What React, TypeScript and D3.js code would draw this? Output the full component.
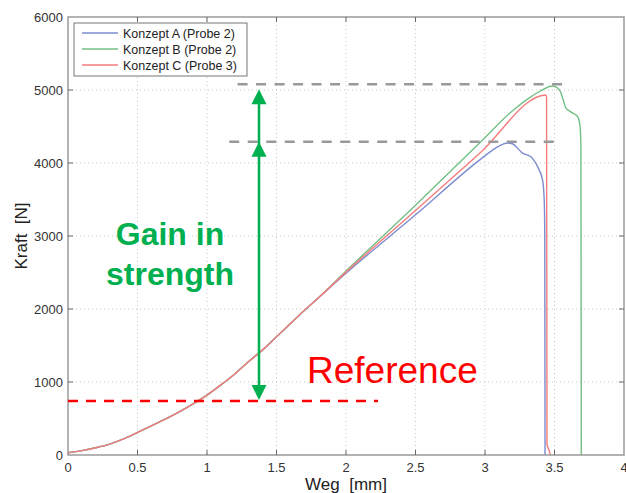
import {useEffect, useRef} from "react";
import * as d3 from "d3";

// shared loading part (all three specimens lie on top of each other here)
const baseWeg = [0, 0.1, 0.2, 0.3, 0.4, 0.5, 0.6, 0.7, 0.8, 0.9, 1.0, 1.1, 1.2, 1.3, 1.4, 1.5, 1.6, 1.7, 1.8]
const baseKraft = [30, 60, 100, 150, 220, 310, 400, 490, 590, 700, 820, 960, 1110, 1280, 1440, 1620, 1800, 1980, 2150]

const wegA = [2.0, 2.5, 2.96, 3.05, 3.1, 3.16, 3.2, 3.27, 3.33, 3.378, 3.414, 3.426, 3.43, 3.432]
const kraftA = [2490, 3290, 4040, 4170, 4230, 4275, 4260, 4135, 4085, 3950, 3770, 3500, 3000, 0]

const wegB = [2.0, 2.5, 2.97, 3.2, 3.34, 3.42, 3.485, 3.52, 3.545, 3.565, 3.58, 3.617, 3.665, 3.684, 3.69, 3.693]
const kraftB = [2520, 3420, 4290, 4720, 4920, 5010, 5055, 5030, 4970, 4850, 4760, 4700, 4640, 4500, 4220, 0]

const wegC = [2.0, 2.5, 2.96, 3.437, 3.443, 3.446, 3.46, 3.47]
const kraftC = [2505, 3350, 4130, 4932, 4900, 150, 70, 0]

const seriesNames = ["Konzept A (Probe 2)", "Konzept B (Probe 2)", "Konzept C (Probe 3)"]
const seriesColors = ["#7d8bd0", "#72bf85", "#f47c7c"]

const xTicks = [0, 0.5, 1, 1.5, 2, 2.5, 3, 3.5, 4]
const yTicks = [0, 1000, 2000, 3000, 4000, 5000, 6000]

// annotation levels (N)
const peakB = 5080
const peakA = 4290
const referenceLevel = 740

const App = () => {
    const svgRef = useRef<SVGSVGElement>(null)

    useEffect(() => {
        const svg = d3.select(svgRef.current)
        svg.selectAll("*").remove()

        const margin = {top: 17, right: 2, bottom: 38, left: 68},
            width = 626 - margin.left - margin.right,
            height = 493 - margin.top - margin.bottom;

        const g = svg.append("g")
            .attr("transform", "translate(" + margin.left + "," + margin.top + ")")

        const x = d3.scaleLinear().domain([0, 4]).range([0, width])
        const y = d3.scaleLinear().domain([0, 6000]).range([height, 0])

        // grid
        g.selectAll(".vgrid")
            .data(xTicks.slice(1, -1))
            .enter().append("line")
            .attr("x1", d => x(d)).attr("x2", d => x(d))
            .attr("y1", 0).attr("y2", height)
            .attr("stroke", "#c8c8c8").attr("stroke-dasharray", "1,3")
        g.selectAll(".hgrid")
            .data(yTicks.slice(1, -1))
            .enter().append("line")
            .attr("x1", 0).attr("x2", width)
            .attr("y1", d => y(d)).attr("y2", d => y(d))
            .attr("stroke", "#c8c8c8").attr("stroke-dasharray", "1,3")

        // curves
        const toPts = (wx: number[], ky: number[]) => wx.map((w, i) => [w, ky[i]] as [number, number])
        const base = toPts(baseWeg, baseKraft)
        const curves = [
            base.concat(toPts(wegA, kraftA)),
            base.concat(toPts(wegB, kraftB)),
            base.concat(toPts(wegC, kraftC)),
        ]
        const line = d3.line<[number, number]>()
            .x(d => x(d[0]))
            .y(d => y(d[1]))
            .curve(d3.curveMonotoneX)

        g.selectAll(".curve")
            .data(curves)
            .enter().append("path")
            .attr("d", d => line(d))
            .attr("fill", "none")
            .attr("stroke", (_, i) => seriesColors[i])
            .attr("stroke-width", 1.4)

        // frame + inner ticks
        g.append("rect")
            .attr("width", width).attr("height", height)
            .attr("fill", "none").attr("stroke", "#9a9a9a").attr("stroke-width", 1.5)

        const tickLen = 5
        xTicks.slice(1, -1).forEach(t => {
            g.append("line").attr("x1", x(t)).attr("x2", x(t)).attr("y1", height).attr("y2", height - tickLen)
                .attr("stroke", "#666")
            g.append("line").attr("x1", x(t)).attr("x2", x(t)).attr("y1", 0).attr("y2", tickLen)
                .attr("stroke", "#666")
        })
        yTicks.slice(1, -1).forEach(t => {
            g.append("line").attr("x1", 0).attr("x2", tickLen).attr("y1", y(t)).attr("y2", y(t))
                .attr("stroke", "#666")
            g.append("line").attr("x1", width).attr("x2", width - tickLen).attr("y1", y(t)).attr("y2", y(t))
                .attr("stroke", "#666")
        })

        // tick labels
        g.selectAll(".xlab")
            .data(xTicks)
            .enter().append("text")
            .attr("x", d => x(d)).attr("y", height + 17)
            .attr("text-anchor", "middle")
            .attr("font-family", "Liberation Sans, Arial, sans-serif")
            .attr("font-size", 13).attr("fill", "#333")
            .text(d => String(d))
        g.selectAll(".ylab")
            .data(yTicks)
            .enter().append("text")
            .attr("x", -5).attr("y", d => y(d) + 4.5)
            .attr("text-anchor", "end")
            .attr("font-family", "Liberation Sans, Arial, sans-serif")
            .attr("font-size", 13).attr("fill", "#333")
            .text(d => String(d))

        // axis titles
        g.append("text")
            .attr("x", x(2)).attr("y", height + 35)
            .attr("text-anchor", "middle")
            .attr("font-family", "Liberation Sans, Arial, sans-serif")
            .attr("font-size", 17).attr("fill", "#222")
            .style("white-space", "pre")
            .text("Weg  [mm]")
        g.append("text")
            .attr("transform", "translate(" + (-41) + "," + y(3000) + ")rotate(-90)")
            .attr("text-anchor", "middle")
            .attr("font-family", "Liberation Sans, Arial, sans-serif")
            .attr("font-size", 17).attr("fill", "#222")
            .style("white-space", "pre")
            .text("Kraft  [N]")

        // legend
        const lg = g.append("g").attr("transform", "translate(6,6)")
        lg.append("rect").attr("width", 173).attr("height", 53)
            .attr("fill", "white").attr("stroke", "#777").attr("stroke-width", 1)
        seriesNames.forEach((name, i) => {
            const ly = 10 + i * 16
            lg.append("line").attr("x1", 8).attr("x2", 44).attr("y1", ly).attr("y2", ly)
                .attr("stroke", seriesColors[i]).attr("stroke-width", 1.4)
            lg.append("text").attr("x", 49).attr("y", ly + 4.5)
                .attr("font-family", "Liberation Sans, Arial, sans-serif")
                .attr("font-size", 12.5).attr("fill", "#222")
                .text(name)
        })

        // annotations
        g.append("line")
            .attr("x1", x(1.22)).attr("x2", x(3.58))
            .attr("y1", y(peakB)).attr("y2", y(peakB))
            .attr("stroke", "#999").attr("stroke-width", 2.5).attr("stroke-dasharray", "10,8.5")
        g.append("line")
            .attr("x1", x(1.16)).attr("x2", x(3.51))
            .attr("y1", y(peakA)).attr("y2", y(peakA))
            .attr("stroke", "#999").attr("stroke-width", 2.5).attr("stroke-dasharray", "10,8.5")
        g.append("line")
            .attr("x1", x(0)).attr("x2", x(2.23))
            .attr("y1", y(referenceLevel)).attr("y2", y(referenceLevel))
            .attr("stroke", "#ff0000").attr("stroke-width", 2.5).attr("stroke-dasharray", "10,8")

        const green = "#00b050"
        const ax = x(1.374)
        const topTip = y(peakB) + 5
        const midTip = y(peakA)
        const botTip = y(referenceLevel) - 1
        g.append("line").attr("x1", ax).attr("x2", ax).attr("y1", topTip + 8).attr("y2", botTip - 8)
            .attr("stroke", green).attr("stroke-width", 2.5)
        const head = (tip: number, dir: number) => {
            g.append("path")
                .attr("d", `M${ax},${tip} L${ax - 7.5},${tip + dir * 15} L${ax + 7.5},${tip + dir * 15} Z`)
                .attr("fill", green)
        }
        head(topTip, 1)
        head(midTip, 1)
        head(botTip, -1)

        g.append("text").attr("x", 170 - margin.left).attr("y", 245 - margin.top)
            .attr("text-anchor", "middle")
            .attr("font-family", "Liberation Sans, Arial, sans-serif")
            .attr("font-size", 32).attr("font-weight", "bold").attr("fill", green)
            .text("Gain in")
        g.append("text").attr("x", 170 - margin.left).attr("y", 285 - margin.top)
            .attr("text-anchor", "middle")
            .attr("font-family", "Liberation Sans, Arial, sans-serif")
            .attr("font-size", 32).attr("font-weight", "bold").attr("fill", green)
            .text("strength")
        g.append("text").attr("x", 307 - margin.left).attr("y", 383 - margin.top)
            .attr("font-family", "Liberation Sans, Arial, sans-serif")
            .attr("font-size", 37).attr("fill", "#ff0000")
            .text("Reference")
    }, [])

    return (
        <svg ref={svgRef} width={626} height={493}
             style={{position: "absolute", left: 0, top: 0, background: "white"}}/>
    )
}
export default App
